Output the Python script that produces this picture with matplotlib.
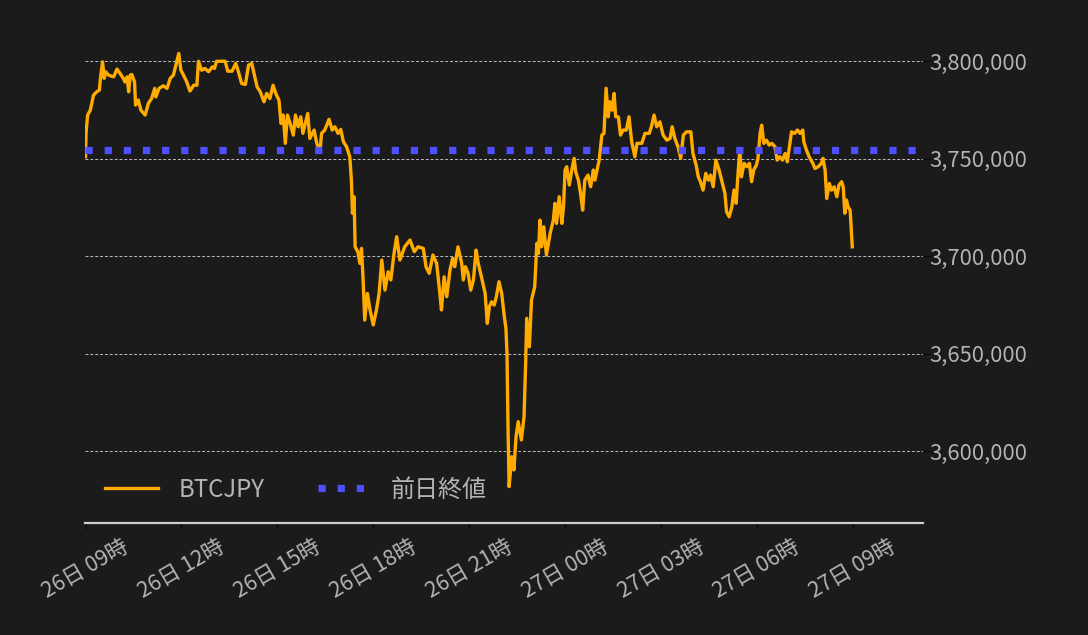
import matplotlib
matplotlib.use("Agg")
import matplotlib.pyplot as plt
from matplotlib.ticker import FuncFormatter, FixedLocator

plt.rcParams['font.family'] = ['Noto Sans CJK JP', 'DejaVu Sans']

# minutes since 26日 09:00
minutes = [0, 1, 4, 9, 15, 21, 26, 28, 32, 35, 38, 43, 53, 59, 65, 71, 74, 78, 81, 84,
           87, 92, 94, 99, 104, 112, 118, 124, 130, 132, 138, 146, 153, 159, 165, 171, 175, 179, 184, 190,
           196, 203, 209, 212, 218, 224, 231, 238, 242, 246, 256, 262, 267, 275, 282, 287, 293, 300, 306, 312,
           317, 322, 328, 335, 340, 346, 352, 357, 363, 367, 371, 375, 379, 384, 390, 394, 399, 404, 408, 417,
           421, 429, 434, 440, 443, 449, 457, 463, 468, 474, 479, 484, 490, 496, 499, 501, 504, 506, 511, 515,
           518, 521, 524, 529, 534, 540, 546, 551, 556, 562, 568, 573, 579, 584, 590, 599, 609, 617, 624, 634,
           639, 645, 652, 659, 665, 668, 673, 678, 684, 689, 693, 699, 706, 709, 713, 718, 723, 728, 733, 737,
           743, 750, 754, 758, 762, 767, 771, 776, 781, 786, 789, 791, 793, 795, 800, 804, 808, 812, 818, 823,
           826, 828, 833, 837, 843, 847, 850, 853, 856, 860, 865, 872, 878, 881, 884, 889, 894, 897, 900, 903,
           908, 912, 917, 920, 925, 929, 933, 937, 943, 948, 953, 956, 960, 964, 969, 973, 977, 981, 984, 988,
           992, 995, 1000, 1004, 1009, 1015, 1020, 1025, 1031, 1035, 1044, 1050, 1058, 1062, 1067, 1072, 1078, 1084, 1091, 1097,
           1101, 1106, 1112, 1117, 1122, 1128, 1136, 1140, 1146, 1150, 1154, 1159, 1164, 1169, 1173, 1178, 1183, 1189, 1196, 1200,
           1203, 1208, 1213, 1217, 1221, 1225, 1228, 1231, 1236, 1241, 1246, 1250, 1254, 1259, 1262, 1266, 1269, 1273, 1278, 1283,
           1288, 1294, 1298, 1303, 1308, 1313, 1317, 1322, 1325, 1331, 1336, 1341, 1346, 1348, 1353, 1358, 1365, 1369, 1375, 1381,
           1384, 1388, 1391, 1396, 1400, 1405, 1410, 1414, 1419, 1422, 1425, 1428, 1431, 1435, 1438, 1439]

btcjpy = [3751100, 3763200, 3772500, 3775000, 3782700, 3784400, 3785300, 3791300, 3799800, 3791300,
          3794700, 3793000, 3792100, 3796100, 3793800, 3791300, 3789500, 3792100, 3784400, 3793000,
          3793300, 3789500, 3777600, 3780200, 3775000, 3772500, 3778500, 3781000, 3786200, 3781800,
          3786200, 3787500, 3786200, 3791300, 3793000, 3799800, 3804100, 3795500, 3793000, 3789500,
          3784800, 3787800, 3787800, 3800100, 3795500, 3796400, 3794700, 3797200, 3796400, 3800100,
          3800100, 3800100, 3795000, 3795000, 3799000, 3794700, 3788700, 3788200, 3798100, 3799000,
          3793000, 3787000, 3784400, 3779300, 3783600, 3781000, 3787800, 3783600, 3780200, 3768200,
          3772500, 3758000, 3772500, 3768200, 3762200, 3772500, 3766500, 3771600, 3763100, 3773300,
          3760500, 3764800, 3758000, 3753600, 3763100, 3764800, 3770300, 3764800, 3766500, 3763100,
          3765100, 3758800, 3756200, 3751100, 3739100, 3722100, 3730600, 3704900, 3702400, 3696400,
          3704100, 3687900, 3667300, 3681000, 3672500, 3664800, 3672500, 3681000, 3698100, 3682700,
          3692100, 3687900, 3701500, 3710100, 3698100, 3704900, 3708400, 3702400, 3704900, 3704100,
          3694700, 3691300, 3700700, 3696400, 3681000, 3672500, 3689500, 3679300, 3693000, 3699000,
          3694700, 3704900, 3696400, 3687900, 3694700, 3691300, 3682700, 3687900, 3703200, 3696400,
          3689500, 3681000, 3665600, 3674200, 3676700, 3675000, 3679300, 3687000, 3681000, 3669000,
          3663100, 3650300, 3610900, 3581900, 3597200, 3590400, 3607500, 3615200, 3605800, 3617800,
          3645100, 3668200, 3653600, 3677600, 3684400, 3706700, 3701500, 3718600, 3704900, 3715200,
          3700700, 3711800, 3718600, 3727200, 3716900, 3730600, 3716900, 3725400, 3744300, 3746000,
          3736600, 3743400, 3750300, 3743400, 3739100, 3732300, 3723700, 3739100, 3741700, 3735700,
          3744300, 3739100, 3744300, 3749400, 3762200, 3763100, 3786200, 3771600, 3779300, 3775000,
          3783600, 3771600, 3771600, 3762200, 3764800, 3764800, 3771600, 3758800, 3751100, 3758000,
          3758000, 3763100, 3763100, 3766500, 3772500, 3766500, 3769000, 3762200, 3759600, 3760500,
          3766500, 3760500, 3756200, 3750300, 3762200, 3763900, 3763900, 3752800, 3746800, 3740800,
          3738300, 3734000, 3742600, 3739100, 3741700, 3735700, 3749400, 3744300, 3736600, 3732300,
          3722900, 3720300, 3725400, 3734000, 3727200, 3744300, 3754500, 3740800, 3747700, 3746000,
          3747700, 3738300, 3744300, 3746800, 3750300, 3763100, 3767300, 3758000, 3759600, 3757100,
          3758000, 3756200, 3749400, 3751100, 3749400, 3752800, 3748500, 3758000, 3763900, 3763100,
          3764800, 3763100, 3764800, 3758800, 3754500, 3751100, 3747700, 3745100, 3746000, 3747700,
          3750300, 3744300, 3729700, 3737400, 3734000, 3735700, 3730600, 3736600, 3738300, 3735700,
          3722100, 3728900, 3725400, 3723700, 3710100, 3704900]

prev_close = 3754600

tick_minutes = [0, 180, 360, 540, 720, 900, 1080, 1260, 1440]
tick_labels = ["26日 09時", "26日 12時", "26日 15時", "26日 18時", "26日 21時",
               "27日 00時", "27日 03時", "27日 06時", "27日 09時"]
y_ticks = [3600000, 3650000, 3700000, 3750000, 3800000]

bg = '#1b1b1b'
txt = '#b4b4b4'

fig = plt.figure(figsize=(10.88, 6.35), dpi=100, facecolor=bg)
ax = fig.add_axes([0.0781, 0.1764, 0.7699, 0.7968], facecolor=bg)

ax.plot(minutes, btcjpy, color='#ffab00', lw=2.4, label='BTCJPY', zorder=3)
ax.axhline(prev_close, color='#4f4fff', lw=5.2, linestyle=':', label='前日終値', zorder=4)

ax.set_xlim(-1, 1571)
ax.set_ylim(3563200, 3822800)

ax.yaxis.tick_right()
ax.yaxis.set_major_locator(FixedLocator(y_ticks))
ax.yaxis.set_major_formatter(FuncFormatter(lambda v, p: f"{int(v):,}"))
ax.grid(axis='y', color='#bdbdbd', linestyle=(0, (3, 2)), lw=0.7)
ax.tick_params(axis='y', colors='#0a0a0a', labelcolor=txt, labelsize=15.8, length=5, width=1, pad=0)

ax.set_xticks(tick_minutes)
ax.set_xticklabels(tick_labels, rotation=30, ha='center', rotation_mode='default')
ax.tick_params(axis='x', colors='#0a0a0a', labelcolor=txt, labelsize=15.5, length=4, width=1, pad=5)

for s in ['top', 'left', 'right']:
    ax.spines[s].set_visible(False)
ax.spines['bottom'].set_color('#cfcfcf')
ax.spines['bottom'].set_linewidth(1.6)

leg = ax.legend(loc='lower left', bbox_to_anchor=(0.0, 0.0), ncol=2, frameon=False,
                fontsize=17.3, handlelength=2.2, handletextpad=0.85, columnspacing=2.2,
                borderaxespad=0.45)
for t in leg.get_texts():
    t.set_color(txt)

fig.savefig('out.png', dpi=100, facecolor=bg)
